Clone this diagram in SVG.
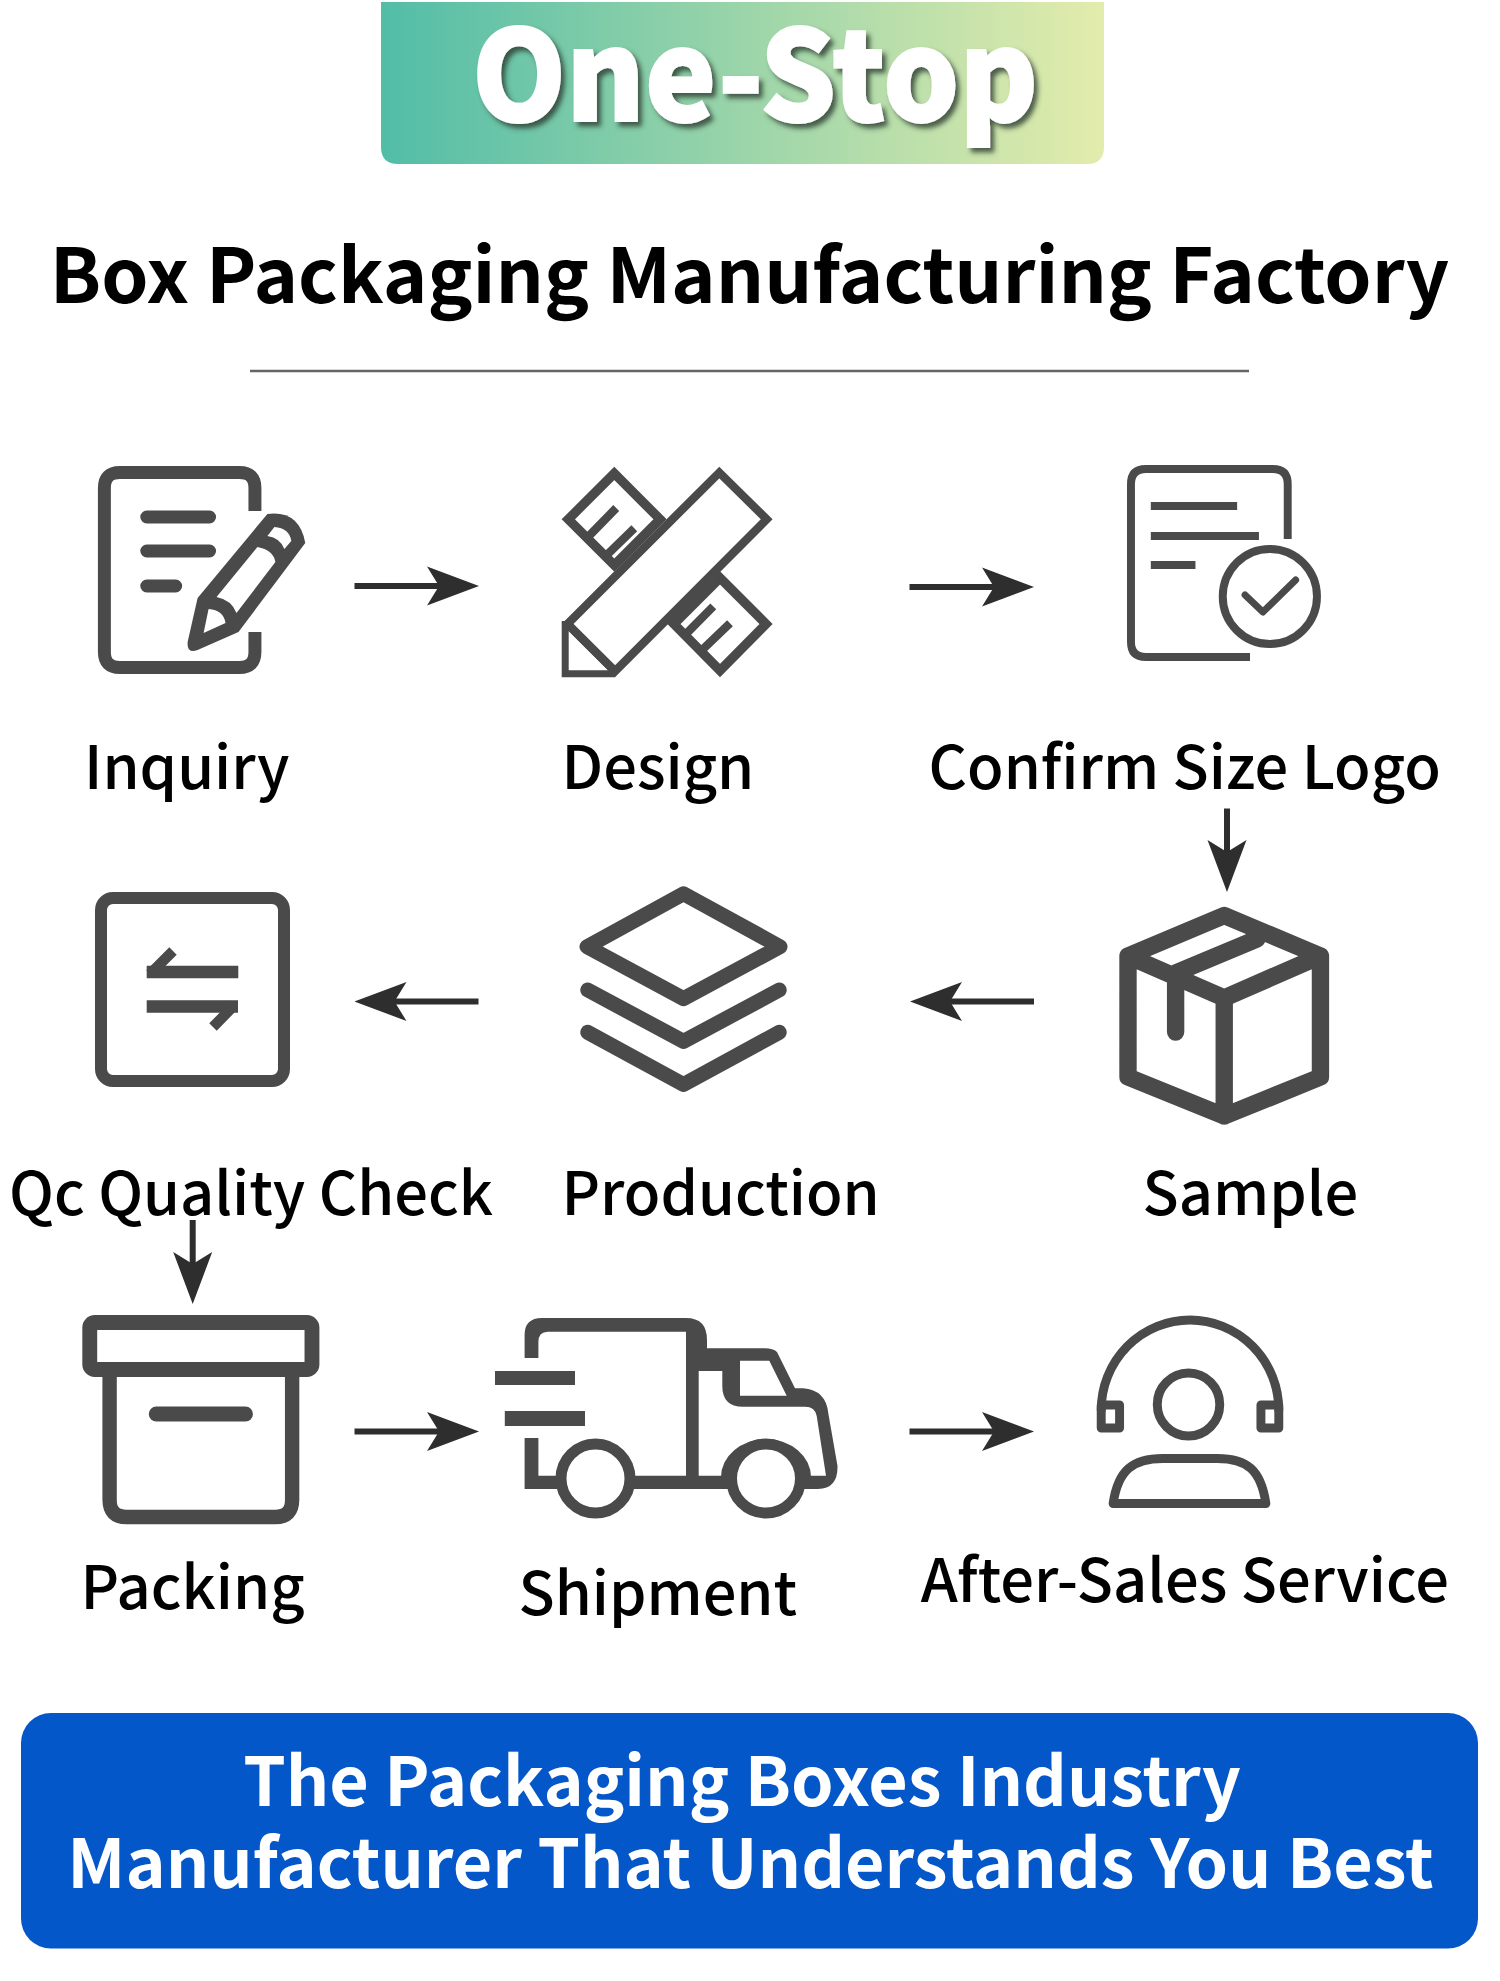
<svg xmlns="http://www.w3.org/2000/svg" width="1500" height="1981" viewBox="0 0 1500 1981">
<style>
text{font-family:"Noto Sans CJK SC","Noto Sans",sans-serif}
.lb{font-size:59.6px;font-weight:500;fill:#000}
.ti{font-size:75.65px;font-weight:700;fill:#000}
.bn{font-size:68.1px;font-weight:700;fill:#fff}
.hd{font-size:125px;font-weight:900;fill:#fff;stroke:#fff;stroke-width:2px;filter:url(#sh)}
.s{fill:none;stroke:#4a4a4a;stroke-linecap:round;stroke-linejoin:round}
.m{fill:none;stroke:#4a4a4a;stroke-linejoin:miter;stroke-linecap:butt}
.f{fill:#4a4a4a}
.w{fill:#fff}
.c{stroke:#2e2e2e;stroke-width:6;fill:none;marker-end:url(#ah)}
</style>
<defs>
<linearGradient id="g" x1="0" x2="1" y1="0" y2="0"><stop offset="0" stop-color="#52bda7"/><stop offset="1" stop-color="#e3ecac"/></linearGradient>
<filter id="sh" x="-10%" y="-20%" width="120%" height="140%"><feDropShadow dx="4" dy="4.5" stdDeviation="2.5" flood-color="#2c3a30" flood-opacity=".8"/></filter>
<marker id="ah" markerUnits="userSpaceOnUse" viewBox="0 0 52 40" markerWidth="52" markerHeight="40" refX="14" refY="20" orient="auto"><path d="M0,0.5L52,20L0,39.5L12,20Z" fill="#2e2e2e"/></marker>
</defs>
<rect width="1500" height="1981" fill="#fff"/>
<g id="header">
<path d="M381,2H1104V147Q1104,164 1087,164H398Q381,164 381,147Z" fill="url(#g)"/>
<text class="hd" x="472" y="120.7" textLength="566" lengthAdjust="spacingAndGlyphs">One-Stop</text>
</g>
<g id="title">
<text class="ti" x="749.4" y="303" text-anchor="middle">Box Packaging Manufacturing Factory</text>
<line x1="250" y1="371" x2="1249" y2="371" stroke="#666" stroke-width="2.5"/>
</g>
<g id="connectors">
<line class="c" x1="354.5" y1="586" x2="441" y2="586"/>
<line class="c" x1="909.5" y1="587" x2="996" y2="587"/>
<line class="c" x1="1227" y1="808.5" x2="1227" y2="854"/>
<line class="c" x1="1034" y1="1001.5" x2="948" y2="1001.5"/>
<line class="c" x1="478.5" y1="1001.5" x2="392.5" y2="1001.5"/>
<line class="c" x1="192.7" y1="1220" x2="192.7" y2="1266"/>
<line class="c" x1="354.5" y1="1431.5" x2="441" y2="1431.5"/>
<line class="c" x1="909.5" y1="1431.5" x2="996" y2="1431.5"/>
</g>
<g id="inquiry">
<g transform="matrix(.997 0 0 1 .2 0)">
<path class="m" stroke-width="13" d="M255.5,511V488Q255.5,472.5 240,472.5H120Q104.5,472.5 104.5,488V652Q104.5,667.5 120,667.5H240Q255.5,667.5 255.5,652V632"/>
<path class="s" stroke-width="13" d="M147,517H210M147,551H210M147,586H176"/>
<path class="f" d="M268,514Q300,510 306,543L239,632L198,650Q187,654 188,642L198,598Z"/>
<path class="w" d="M275,527Q290,528 292,541L285,549Q281,538 268,536ZM258,547Q274,550 276,562L237,613Q232,600 217,597ZM209,609Q224,610 226,623L204,633Z"/>
</g>
<text class="lb" x="84" y="789">Inquiry</text>
</g>
<g id="design">
<path class="m" stroke-width="9.4" d="M614.3,473.4L568.3,519.3L614.3,565L660,519.3Z"/>
<path class="m" stroke-width="9.4" d="M720,578L674,624L720,670.5L766,624Z"/>
<path class="m" stroke-width="8.3" d="M586,539L616.2,508M605,556.7L634.3,528.3M685,635L713.3,606.3M701,651L730,623.3"/>
<path d="M567.5,624L719.3,472.5L766.7,519.3L615,671.3Z" fill="#fff" stroke="#4a4a4a" stroke-width="8.3" stroke-linejoin="miter"/>
<path class="m" stroke-width="8.3" d="M567.5,624L615,671.3"/>
<path class="m" stroke-width="7" d="M565.2,621V673.8H615"/>
<text class="lb" x="561.5" y="789">Design</text>
</g>
<g id="confirm">
<g transform="matrix(.992 0 0 1 7.04 -1)">
<path class="m" stroke-width="8" d="M1291,540V485Q1291,470 1276,470H1148Q1133,470 1133,485V643Q1133,658 1148,658H1253"/>
<path class="m" stroke-width="8" d="M1153,507H1240M1153,537H1262M1153,566H1198"/>
<ellipse class="m" stroke-width="8" cx="1273" cy="597.5" rx="47.5" ry="47.5"/>
<path class="s" stroke-width="7" d="M1248,596L1266,613L1299,581"/>
</g>
<text class="lb" x="928.5" y="789">Confirm Size Logo</text>
</g>
<g id="sample">
<path class="s" stroke-width="17.5" transform="matrix(.992 0 0 1 7.04 -2)" d="M1227,917.5L1324,958V1079L1227,1118L1130,1079V958ZM1130,958L1227,1000L1324,958M1227,1000V1118M1260,941L1178,975V1034"/>
<text class="lb" x="1142.5" y="1214.5">Sample</text>
</g>
<g id="qc">
<rect class="m" stroke-width="12" x="101" y="898" width="183" height="183" rx="12"/>
<path class="m" stroke-width="12.3" d="M238.3,972H146.7M146.7,1006.5H238"/>
<path class="m" stroke-width="10.5" d="M173,951L150,974M213,1027L234.5,1005"/>
<text class="lb" x="9" y="1214.5">Qc Quality Check</text>
</g>
<g id="production">
<path class="s" stroke-width="15" d="M683.5,893.7L780,946.7L683.5,998.7L587,946.7Z"/>
<path class="s" stroke-width="15" d="M587.8,990L683.5,1041.4L779.2,990M587.8,1032.3L683.5,1084.5L779.2,1032.3"/>
<text class="lb" x="561.5" y="1214.5">Production</text>
</g>
<g id="packing">
<g transform="matrix(.992 0 0 1 .48 0)">
<rect class="m" stroke-width="15" x="90" y="1322.5" width="224" height="47" rx="5"/>
<path class="m" stroke-width="14.5" d="M110,1370V1500Q110,1517 127,1517H277Q294,1517 294,1500V1370"/>
<path class="s" stroke-width="15" d="M157,1414H247"/>
</g>
<text class="lb" x="80.5" y="1609">Packing</text>
</g>
<g id="shipment">
<path class="f" d="M524.6,1358V1335Q524.6,1318 542,1318H686Q707,1318 707,1340V1348.3H765Q773,1348.3 777,1352L795,1388.3H803Q826,1390 828.3,1413.3L837.5,1466Q838,1489 818,1489H524.6V1438H538.4V1475.7H686V1331.7H548Q538.4,1331.7 538.4,1342V1358Z"/>
<path class="w" d="M698.7,1475.7V1371H722.3V1386Q722.3,1406.7 743,1406.7H805Q815,1406.7 816.7,1416L826,1475.7ZM740,1360.7H769.3L786.7,1395.7H740Z"/>
<path class="f" d="M495,1371H575V1385H495ZM504.8,1411H585V1426H504.8ZM721,1477A45,38 0 0 1 811,1477Z"/>
<circle cx="595.5" cy="1478.5" r="34.5" fill="#fff" stroke="#4a4a4a" stroke-width="11"/>
<circle cx="766" cy="1478.5" r="34.5" fill="#fff" stroke="#4a4a4a" stroke-width="11"/>
<text class="lb" x="518.5" y="1614.5">Shipment</text>
</g>
<g id="after-sales">
<g transform="matrix(.992 0 0 1 7.04 0)">
<path class="s" stroke-width="9" d="M1103,1410A89.5,90 0 0 1 1282,1410"/>
<rect class="s" stroke-width="9" x="1103" y="1405" width="18.5" height="23"/>
<rect class="s" stroke-width="9" x="1264" y="1405" width="18" height="23"/>
<ellipse class="s" stroke-width="9" cx="1191" cy="1404.5" rx="31.5" ry="31.5"/>
<path class="s" stroke-width="9" d="M1115,1503.5C1120,1470 1135,1458.5 1165,1458.5H1220C1250,1458.5 1264,1470 1269,1503.5Z"/>
</g>
<text class="lb" x="920.7" y="1601.5">After-Sales Service</text>
</g>
<g id="banner">
<rect x="21" y="1713" width="1457" height="235.5" rx="30" fill="#0457c8"/>
<text class="bn" x="742" y="1806" text-anchor="middle">The Packaging Boxes Industry</text>
<text class="bn" x="750.5" y="1888" text-anchor="middle">Manufacturer That Understands You Best</text>
</g>
</svg>
